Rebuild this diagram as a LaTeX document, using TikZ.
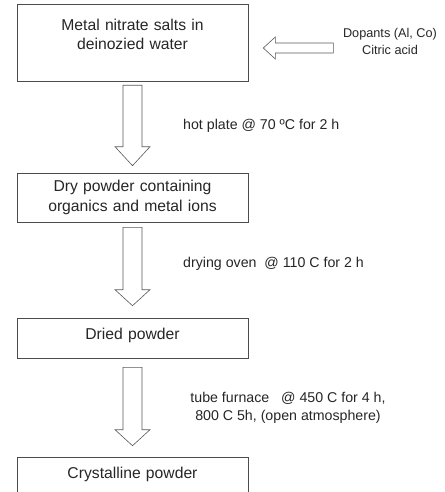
\documentclass[tikz,border=0pt]{standalone}
\usepackage{fontspec}
\setmainfont{Liberation Sans}
\usetikzlibrary{calc,positioning}
\tikzset{
    %Define style for process boxes
    procbox/.style={
           rectangle,
           draw=black!70, semithick,
           minimum width=231pt,
           text width=220pt,
           align=center,
           font=\fontsize{15.7}{19.5}\selectfont,
           text=black!85},
    %one-line boxes, text sits high
    procboxone/.style={
           procbox,
           minimum height=40pt,
           text depth=9pt},
    %Define style for hollow block arrows
    fatarrow/.style={
           draw=black!65, semithick,
           fill=white,
           line join=miter},
    steplabel/.style={
           font=\fontsize{14.2}{18}\selectfont,
           text=black!85,
           align=center,
           inner sep=0pt},
    addlabel/.style={
           font=\fontsize{12.7}{17.5}\selectfont,
           text=black!85,
           align=center,
           inner sep=0pt}
}
% hollow down arrow: start, tip, head length
\newcommand{\fatdown}[3]{%
  \draw[fatarrow] ($(#1)+(-9.5,0)$) -- ($(#2)+(-9.5,#3)$) -- ($(#2)+(-17.5,#3)$) -- (#2)
    -- ($(#2)+(17.5,#3)$) -- ($(#2)+(9.5,#3)$) -- ($(#1)+(9.5,0)$) -- cycle;}

\begin{document}
\begin{tikzpicture}[x=1pt,y=1pt]
\useasboundingbox (0,0) rectangle (444,-492);

 %boxes
\node[procbox, minimum height=77pt, text depth=36pt](m1) at (132.5,-42.5){Metal nitrate salts in\\deinozied water};
\node[procbox, minimum height=49pt](m2) at (132.5,-197.5){Dry powder containing\\organics and metal ions};
\node[procboxone](m3) at (132.5,-338){Dried powder};
\node[procboxone](m4) at (132.5,-477){Crystalline powder};

 %additives
\node[addlabel](dop) at (390,-41.5){Dopants (Al, Co)\\Citric acid};
\coordinate (dtip) at ($(m1.east)+(15,-5.5)$);
\draw[fatarrow] (dtip) -- ++(12,11) -- ++(0,-6) -- ++(58,0) -- ++(0,-10)
    -- ++(-58,0) -- ++(0,-6) -- cycle;

 %process steps
\coordinate (s1) at ($(m1.south)+(0,-4)$);
\coordinate (e1) at ($(m2.north)+(0,7)$);
\fatdown{s1}{e1}{19}
\coordinate (s2) at ($(m2.south)+(0,-5)$);
\coordinate (e2) at ($(m3.north)+(0,12)$);
\fatdown{s2}{e2}{16}
\coordinate (s3) at ($(m3.south)+(0,-9)$);
\coordinate (e3) at ($(m4.north)+(0,11)$);
\fatdown{s3}{e3}{16}

\node[steplabel, anchor=west](t1) at (183,-126){hot plate @ 70 ºC for 2 h};
\node[steplabel, anchor=west](t2) at (183,-264){drying oven\ \ @ 110 C for 2 h};
\node[steplabel](t3) at (288,-408){tube furnace\ \ \ @ 450 C for 4 h,\\800 C 5h, (open atmosphere)};

\end{tikzpicture}
\end{document}
